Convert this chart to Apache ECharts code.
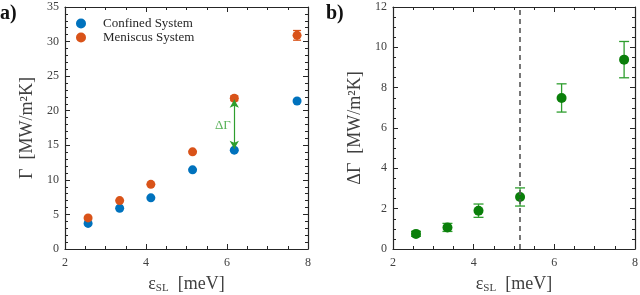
<!DOCTYPE html>
<html><head><meta charset="utf-8">
<script src="https://cdn.jsdelivr.net/npm/echarts@6/dist/echarts.min.js"></script>
<style>html,body{margin:0;padding:0;background:#fff}#c{width:640px;height:295px}</style>
</head><body><div id="c"></div>
<script>
// ---- data ----
const epsSL = [2.57, 3.35, 4.12, 5.15, 6.18, 7.73];
const confined = [3.7, 5.9, 7.4, 11.45, 14.3, 21.4];
const meniscus = [4.5, 7.0, 9.35, 14.05, 21.8, 30.9];
const meniscusErr = [0, 0, 0, 0, 0.35, 0.7];
const deltaGamma = [0.75, 1.07, 1.9, 2.58, 7.49, 9.39];
const deltaErr = [0.12, 0.2, 0.33, 0.45, 0.7, 0.9];
const dashedX = 5.15;
const arrowX = 6.18, arrowFrom = 14.3, arrowTo = 21.8;
const arrowLabelPos = [5.9, 17.9];
const xTicks = [2, 4, 6, 8];
const leftYTicks = [0, 5, 10, 15, 20, 25, 30, 35];
const rightYTicks = [0, 2, 4, 6, 8, 10, 12];

const FONT = 'Liberation Serif';
const AX = '#262626';
const BLUE = '#0072BD', ORANGE = '#D95319', DGREEN = '#0A7F0A', LGREEN = '#2E9E2E';

const grids = [
  {left: 65, right: 332, top: 7, bottom: 46, outerBoundsMode: 'none', containLabel: false},
  {left: 393, right: 5, top: 7, bottom: 46, outerBoundsMode: 'none', containLabel: false}
];

function xAx(gi, pos, show) {
  return {
    type: 'value', gridIndex: gi, position: pos, min: xTicks[0], max: xTicks[xTicks.length-1], interval: 2,
    axisLine: {show: true, onZero: false, lineStyle: {color: AX, width: 1.2}},
    axisTick: {show: true, inside: true, length: 5, lineStyle: {color: AX}},
    minorTick: {show: true, splitNumber: 4, length: 3, lineStyle: {color: AX}},
    splitLine: {show: false},
    axisLabel: {show: show, color: '#404040', fontFamily: FONT, fontSize: 12, margin: 8},
    name: show ? '{e|ε}{s|SL}{t|  [meV]}' : '',
    nameLocation: 'middle', nameGap: 25,
    nameTextStyle: {fontFamily: FONT, color: '#404040', rich: {
      e: {fontFamily: FONT, fontSize: 18, color: '#404040'},
      s: {fontFamily: FONT, fontSize: 11, color: '#404040', padding: [9, 0, 0, 0]},
      t: {fontFamily: FONT, fontSize: 18, color: '#404040'}
    }}
  };
}
function yAx(gi, pos, show, max, interval, minorSplit, name, nameGap) {
  return {
    type: 'value', gridIndex: gi, position: pos, min: 0, max: max, interval: interval,
    axisLine: {show: true, onZero: false, lineStyle: {color: AX, width: 1.2}},
    axisTick: {show: true, inside: true, length: 5, lineStyle: {color: AX}},
    minorTick: {show: true, splitNumber: minorSplit, length: 3, lineStyle: {color: AX}},
    splitLine: {show: false},
    axisLabel: {show: show, color: '#404040', fontFamily: FONT, fontSize: 12, margin: 6},
    name: show ? name : '', nameLocation: 'middle', nameGap: nameGap, nameRotate: 90,
    nameTextStyle: {fontFamily: FONT, fontSize: 18, color: '#404040'}
  };
}

function errRender(color, capW, errs) {
  return function (params, api) {
    const i = params.dataIndex;
    const x = api.value(0), y = api.value(1), e = errs[i];
    if (!e) return null;
    const top = api.coord([x, y + e]);
    const bot = api.coord([x, y - e]);
    const st = {stroke: color, lineWidth: 1.3};
    return {type: 'group', children: [
      {type: 'line', shape: {x1: top[0], y1: top[1], x2: bot[0], y2: bot[1]}, style: st},
      {type: 'line', shape: {x1: top[0]-capW, y1: top[1], x2: top[0]+capW, y2: top[1]}, style: st},
      {type: 'line', shape: {x1: bot[0]-capW, y1: bot[1], x2: bot[0]+capW, y2: bot[1]}, style: st}
    ]};
  };
}

const chart = echarts.init(document.getElementById('c'), null, {renderer: 'canvas'});
chart.setOption({
  animation: false,
  grid: grids,
  xAxis: [xAx(0, 'bottom', true), xAx(0, 'top', false), xAx(1, 'bottom', true), xAx(1, 'top', false)],
  yAxis: [
    yAx(0, 'left', true, 35, 5, 5, 'Γ  [MW/m²K]', 29),
    yAx(0, 'right', false, 35, 5, 5, '', 0),
    yAx(1, 'left', true, 12, 2, 4, 'ΔΓ  [MW/m²K]', 29),
    yAx(1, 'right', false, 12, 2, 4, '', 0)
  ],
  legend: {
    data: ['Confined System', 'Meniscus System'], orient: 'vertical', left: 71, top: 12,
    icon: 'circle', itemWidth: 10, itemHeight: 10, itemGap: 1,
    textStyle: {fontFamily: FONT, fontSize: 13, color: '#262626', padding: [0, 0, 0, 12]}
  },
  graphic: [
    {type: 'text', left: 0, top: 4, style: {text: 'a)', font: 'bold 20px "Liberation Serif"', fill: '#111'}},
    {type: 'text', left: 326, top: 4, style: {text: 'b)', font: 'bold 20px "Liberation Serif"', fill: '#111'}}
  ],
  series: [
    {name: 'Confined System', type: 'scatter', xAxisIndex: 0, yAxisIndex: 0, symbolSize: 9,
     itemStyle: {color: BLUE, opacity: 1}, data: epsSL.map((x, i) => [x, confined[i]]), z: 3},
    {name: 'MenErr', type: 'custom', xAxisIndex: 0, yAxisIndex: 0, renderItem: errRender(ORANGE, 4, meniscusErr),
     data: epsSL.map((x, i) => [x, meniscus[i]]), z: 2},
    {name: 'Meniscus System', type: 'scatter', xAxisIndex: 0, yAxisIndex: 0, symbolSize: 9,
     itemStyle: {color: ORANGE, opacity: 1}, data: epsSL.map((x, i) => [x, meniscus[i]]), z: 3},
    {name: 'arrow', type: 'line', xAxisIndex: 0, yAxisIndex: 0, data: [], z: 4,
     markLine: {silent: true, symbol: ['arrow', 'arrow'], symbolSize: [7, 8],
       lineStyle: {color: LGREEN, width: 1.2, type: 'solid'}, itemStyle: {color: LGREEN}, label: {show: false},
       data: [[{coord: [arrowX, arrowFrom + 0.2]}, {coord: [arrowX, arrowTo - 0.2]}]]}},
    {name: 'arrowLabel', type: 'scatter', xAxisIndex: 0, yAxisIndex: 0, symbolSize: 0,
     data: [arrowLabelPos], label: {show: true, formatter: 'ΔΓ', position: 'inside', fontFamily: FONT, fontSize: 13, color: LGREEN}},
    {name: 'DErr', type: 'custom', xAxisIndex: 2, yAxisIndex: 2, renderItem: errRender(LGREEN, 5, deltaErr),
     data: epsSL.map((x, i) => [x, deltaGamma[i]]), z: 2},
    {name: 'Delta', type: 'scatter', xAxisIndex: 2, yAxisIndex: 2, symbolSize: 10,
     itemStyle: {color: DGREEN, opacity: 1}, data: epsSL.map((x, i) => [x, deltaGamma[i]]), z: 3,
     markLine: {silent: true, symbol: 'none', label: {show: false},
       lineStyle: {color: '#555', width: 1.6, type: [5, 4]}, data: [{xAxis: dashedX}]}}
  ]
});
</script></body></html>
